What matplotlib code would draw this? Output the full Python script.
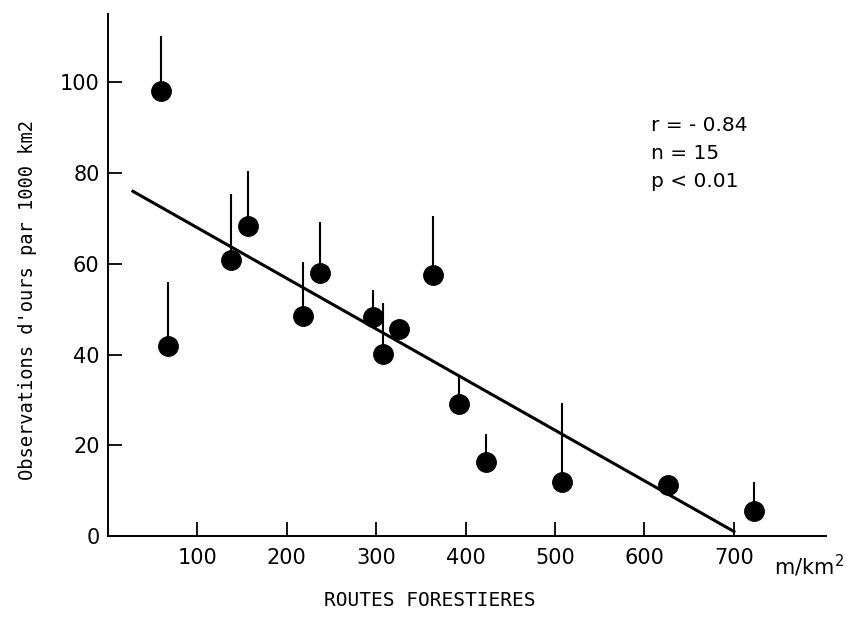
import numpy as np
import matplotlib.pyplot as plt

# Forest road density (m/km2) vs bear observations per 1000 km2
road_density = [59, 67, 138, 157, 218, 237, 296, 308, 326, 364, 393, 423, 508, 626, 722]
observations = [98.2, 41.9, 60.8, 68.4, 48.4, 58.0, 48.2, 40.1, 45.7, 57.6, 29.0, 16.4, 11.8, 11.3, 5.6]
err_upper = [12, 14, 14.6, 12, 12, 11.3, 6, 11.2, 0, 13, 6.2, 6, 17.6, 0, 6.2]

# regression line end points
fit_x = [28, 700]
fit_y = [76, 1]

x_ticks = [100, 200, 300, 400, 500, 600, 700]
y_ticks = [0, 20, 40, 60, 80, 100]
stats_text = "r = - 0.84\nn = 15\np < 0.01"

fig = plt.figure(figsize=(8.56, 6.4), dpi=100)
ax = fig.add_axes([0.126, 0.1625, 0.839, 0.815])

ax.errorbar(road_density, observations,
            yerr=[np.zeros(len(err_upper)), err_upper],
            fmt="o", color="black", markersize=14, elinewidth=1.5,
            capsize=0, zorder=3)
ax.plot(fit_x, fit_y, color="black", linewidth=2.2, zorder=2)

ax.set_xlim(0, 803)
ax.set_ylim(0, 115)
ax.set_xticks(x_ticks)
ax.set_yticks(y_ticks)
ax.spines["top"].set_visible(False)
ax.spines["right"].set_visible(False)
ax.spines["left"].set_linewidth(1.4)
ax.spines["bottom"].set_linewidth(1.4)
ax.tick_params(direction="in", length=10, width=1.3, labelsize=15)
ax.tick_params(axis="y", pad=6)
ax.tick_params(axis="x", pad=9)

ax.annotate("m/km$^2$", xy=(745, 0), xycoords=("data", "axes fraction"),
            xytext=(0, -12), textcoords="offset points",
            ha="left", va="top", fontsize=15)

ax.text(607, 92.5, stats_text, ha="left", va="top", fontsize=14.5,
        linespacing=1.6)

fig.text(28 / 856, 1 - 300 / 640, "Observations d'ours par 1000 km2",
         rotation=90, ha="center", va="center",
         family="DejaVu Sans Mono", fontsize=13.5)
fig.text(430 / 856, 1 - 600 / 640, "ROUTES FORESTIERES",
         ha="center", va="center", family="DejaVu Sans Mono", fontsize=14)

plt.savefig("out.png", dpi=100)
